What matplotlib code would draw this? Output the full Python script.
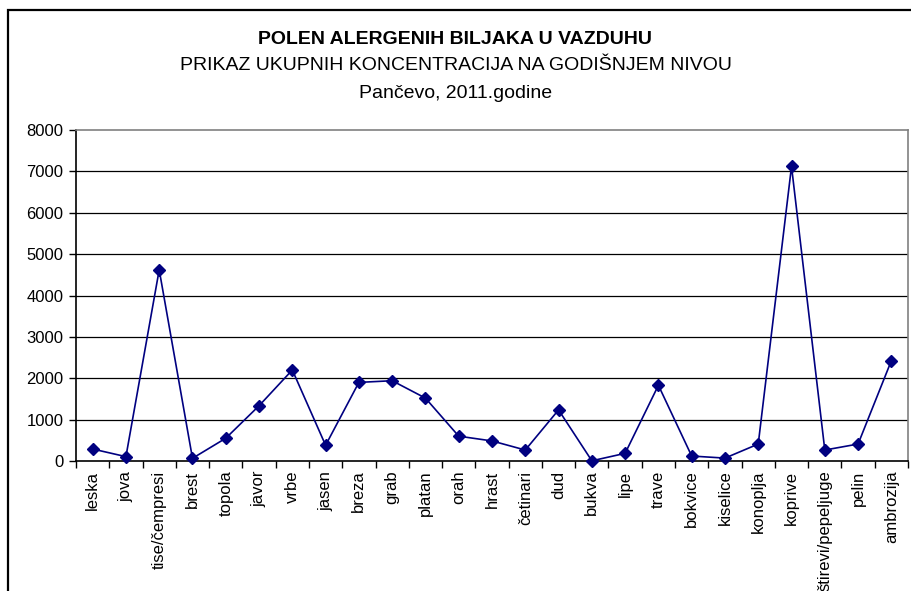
import matplotlib
matplotlib.use('Agg')
import matplotlib.pyplot as plt
from matplotlib.patches import Rectangle
import numpy as np

plt.rcParams['font.family'] = ['Liberation Sans', 'DejaVu Sans']

biljke = ['leska', 'jova', 'tise/čempresi', 'brest', 'topola', 'javor', 'vrbe',
          'jasen', 'breza', 'grab', 'platan', 'orah', 'hrast', 'četinari', 'dud',
          'bukva', 'lipe', 'trave', 'bokvice', 'kiselice', 'konoplja', 'koprive',
          'štirevi/pepeljuge', 'pelin', 'ambrozija']
koncentracija = [290, 105, 4620, 65, 550, 1335, 2200, 380, 1900, 1940, 1520, 600,
                 485, 265, 1235, 5, 185, 1830, 120, 70, 410, 7120, 265, 410, 2425]
y_ticks = [0, 1000, 2000, 3000, 4000, 5000, 6000, 7000, 8000]

navy = '#000080'

fig = plt.figure(figsize=(9.11, 5.91), dpi=100)
ax = fig.add_axes([76/911, 1-461/591, (908-76)/911, (461-130)/591])

x = np.arange(len(biljke))
ax.plot(x, koncentracija, color=navy, lw=1.2, marker='D', ms=6.5,
        markerfacecolor=navy, markeredgecolor=navy, zorder=3, clip_on=False)

ax.set_xlim(-0.5, len(biljke) - 0.5)
ax.set_ylim(0, 8000)
ax.set_yticks(y_ticks)
ax.set_yticklabels([str(v) for v in y_ticks], fontsize=12)
ax.set_xticks(x)
ax.set_xticklabels(biljke, rotation=90, fontsize=12, va='top', ha='center')
ax.set_xticks(np.arange(len(biljke) + 1) - 0.5, minor=True)
ax.tick_params(axis='x', which='major', length=0, pad=7)
ax.tick_params(axis='x', which='minor', length=5, width=1, color='black', direction='out')
ax.tick_params(axis='y', length=5, width=1, color='black', direction='out', pad=4)

for v in y_ticks[1:-1]:
    ax.axhline(v, color='black', lw=0.9, zorder=1)

for s in ['top', 'right']:
    ax.spines[s].set_color('#808080')
    ax.spines[s].set_linewidth(1.2)
for s in ['left', 'bottom']:
    ax.spines[s].set_color('black')
    ax.spines[s].set_linewidth(1.2)

fig.text(0.5, 1-40/591, 'POLEN ALERGENIH BILJAKA U VAZDUHU', ha='center', va='center',
         fontsize=14, fontweight='bold')
fig.text(0.5, 1-66/591, 'PRIKAZ UKUPNIH KONCENTRACIJA NA GODIŠNJEM NIVOU', ha='center',
         va='center', fontsize=14)
fig.text(0.5, 1-93/591, 'Pančevo, 2011.godine', ha='center', va='center', fontsize=14)

# outer chart frame, cut off on right and bottom like in the source
fig.patches.append(Rectangle((8/911, -0.1), 1.0, 1-10/591 + 0.1, transform=fig.transFigure,
                             fill=False, edgecolor='black', lw=1.6))

fig.savefig('out.png', dpi=100)
